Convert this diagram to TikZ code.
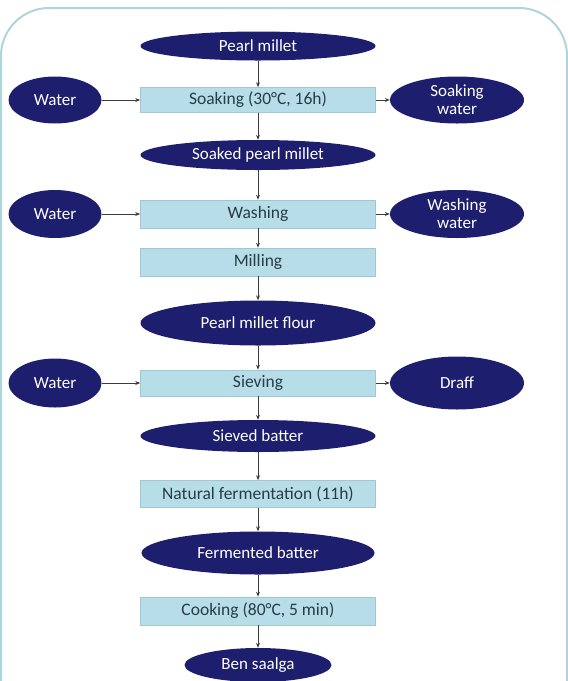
\documentclass[tikz,border=0pt]{standalone}
\usepackage{fontspec}
\setmainfont{Carlito}
\usetikzlibrary{shapes.geometric,arrows.meta}
\definecolor{navy}{RGB}{30,30,110}
\definecolor{boxfill}{RGB}{183,222,232}
\definecolor{boxline}{RGB}{160,200,210}
\definecolor{boxtext}{RGB}{40,60,70}
\definecolor{frame}{RGB}{175,212,218}
\definecolor{arr}{RGB}{60,60,60}
\begin{document}
\begin{tikzpicture}[x=1pt,y=-1pt,
  oval/.style={ellipse,fill=navy,text=white,inner sep=0pt,font=\fontsize{17}{18}\selectfont,align=center},
  stepbox/.style={rectangle,fill=boxfill,draw=boxline,line width=0.6pt,text=boxtext,minimum width=235pt,inner sep=0pt,font=\fontsize{17.5}{19}\selectfont},
  flow/.style={draw=arr,line width=0.9pt,-{Stealth[length=5pt,width=4pt]}}]
\useasboundingbox (0,0) rectangle (568,681);
\begin{scope}
\clip (0,0) rectangle (568,681);
\draw[frame,line width=2pt,rounded corners=48pt] (1,8) rectangle (567,760);
\end{scope}
% main column
\node[oval,minimum width=235pt,minimum height=29pt] (pm) at (258,46) {Pearl millet};
\node[stepbox,minimum height=25pt] (soak) at (258,100) {Soaking (30°C, 16h)};
\node[oval,minimum width=235pt,minimum height=30pt] (spm) at (258,155) {Soaked pearl millet};
\node[stepbox,minimum height=28pt] (wash) at (258,214) {Washing};
\node[stepbox,minimum height=28pt] (mill) at (258,262) {Milling};
\node[oval,minimum width=235pt,minimum height=45pt] (flour) at (258,323) {Pearl millet flour};
\node[stepbox,minimum height=26pt] (siev) at (258,383) {Sieving};
\node[oval,minimum width=235pt,minimum height=32pt] (sb) at (258,436) {Sieved batter};
\node[stepbox,minimum height=27pt] (ferm) at (258,494) {Natural fermentation (11h)};
\node[oval,minimum width=233pt,minimum height=43pt] (fb) at (258,553) {Fermented batter};
\node[stepbox,minimum height=28pt] (cook) at (258,611) {Cooking (80°C, 5 min)};
\node[oval,minimum width=147pt,minimum height=34pt] (ben) at (258,665) {Ben saalga};
% side inputs
\node[oval,minimum width=93pt,minimum height=47pt] (w1) at (55,100) {Water};
\node[oval,minimum width=93pt,minimum height=48pt] (w2) at (55,214) {Water};
\node[oval,minimum width=93pt,minimum height=49pt] (w3) at (55,383) {Water};
% side outputs
\node[oval,minimum width=134pt,minimum height=47pt] (sw) at (457,100) {Soaking\\water};
\node[oval,minimum width=134pt,minimum height=48pt] (ww) at (457,214) {Washing\\water};
\node[oval,minimum width=134pt,minimum height=53pt] (dr) at (457,383) {Draff};
% vertical flow
\draw[flow] (pm) -- (soak);
\draw[flow] (soak) -- (spm);
\draw[flow] (spm) -- (wash);
\draw[flow] (wash) -- (mill);
\draw[flow] (mill) -- (flour);
\draw[flow] (flour) -- (siev);
\draw[flow] (siev) -- (sb);
\draw[flow] (sb) -- (ferm);
\draw[flow] (ferm) -- (fb);
\draw[flow] (fb) -- (cook);
\draw[flow] (cook) -- (ben);
% horizontal flow
\draw[flow] (w1) -- (soak);
\draw[flow] (soak) -- (sw);
\draw[flow] (w2) -- (wash);
\draw[flow] (wash) -- (ww);
\draw[flow] (w3) -- (siev);
\draw[flow] (siev) -- (dr);
\end{tikzpicture}
\end{document}
